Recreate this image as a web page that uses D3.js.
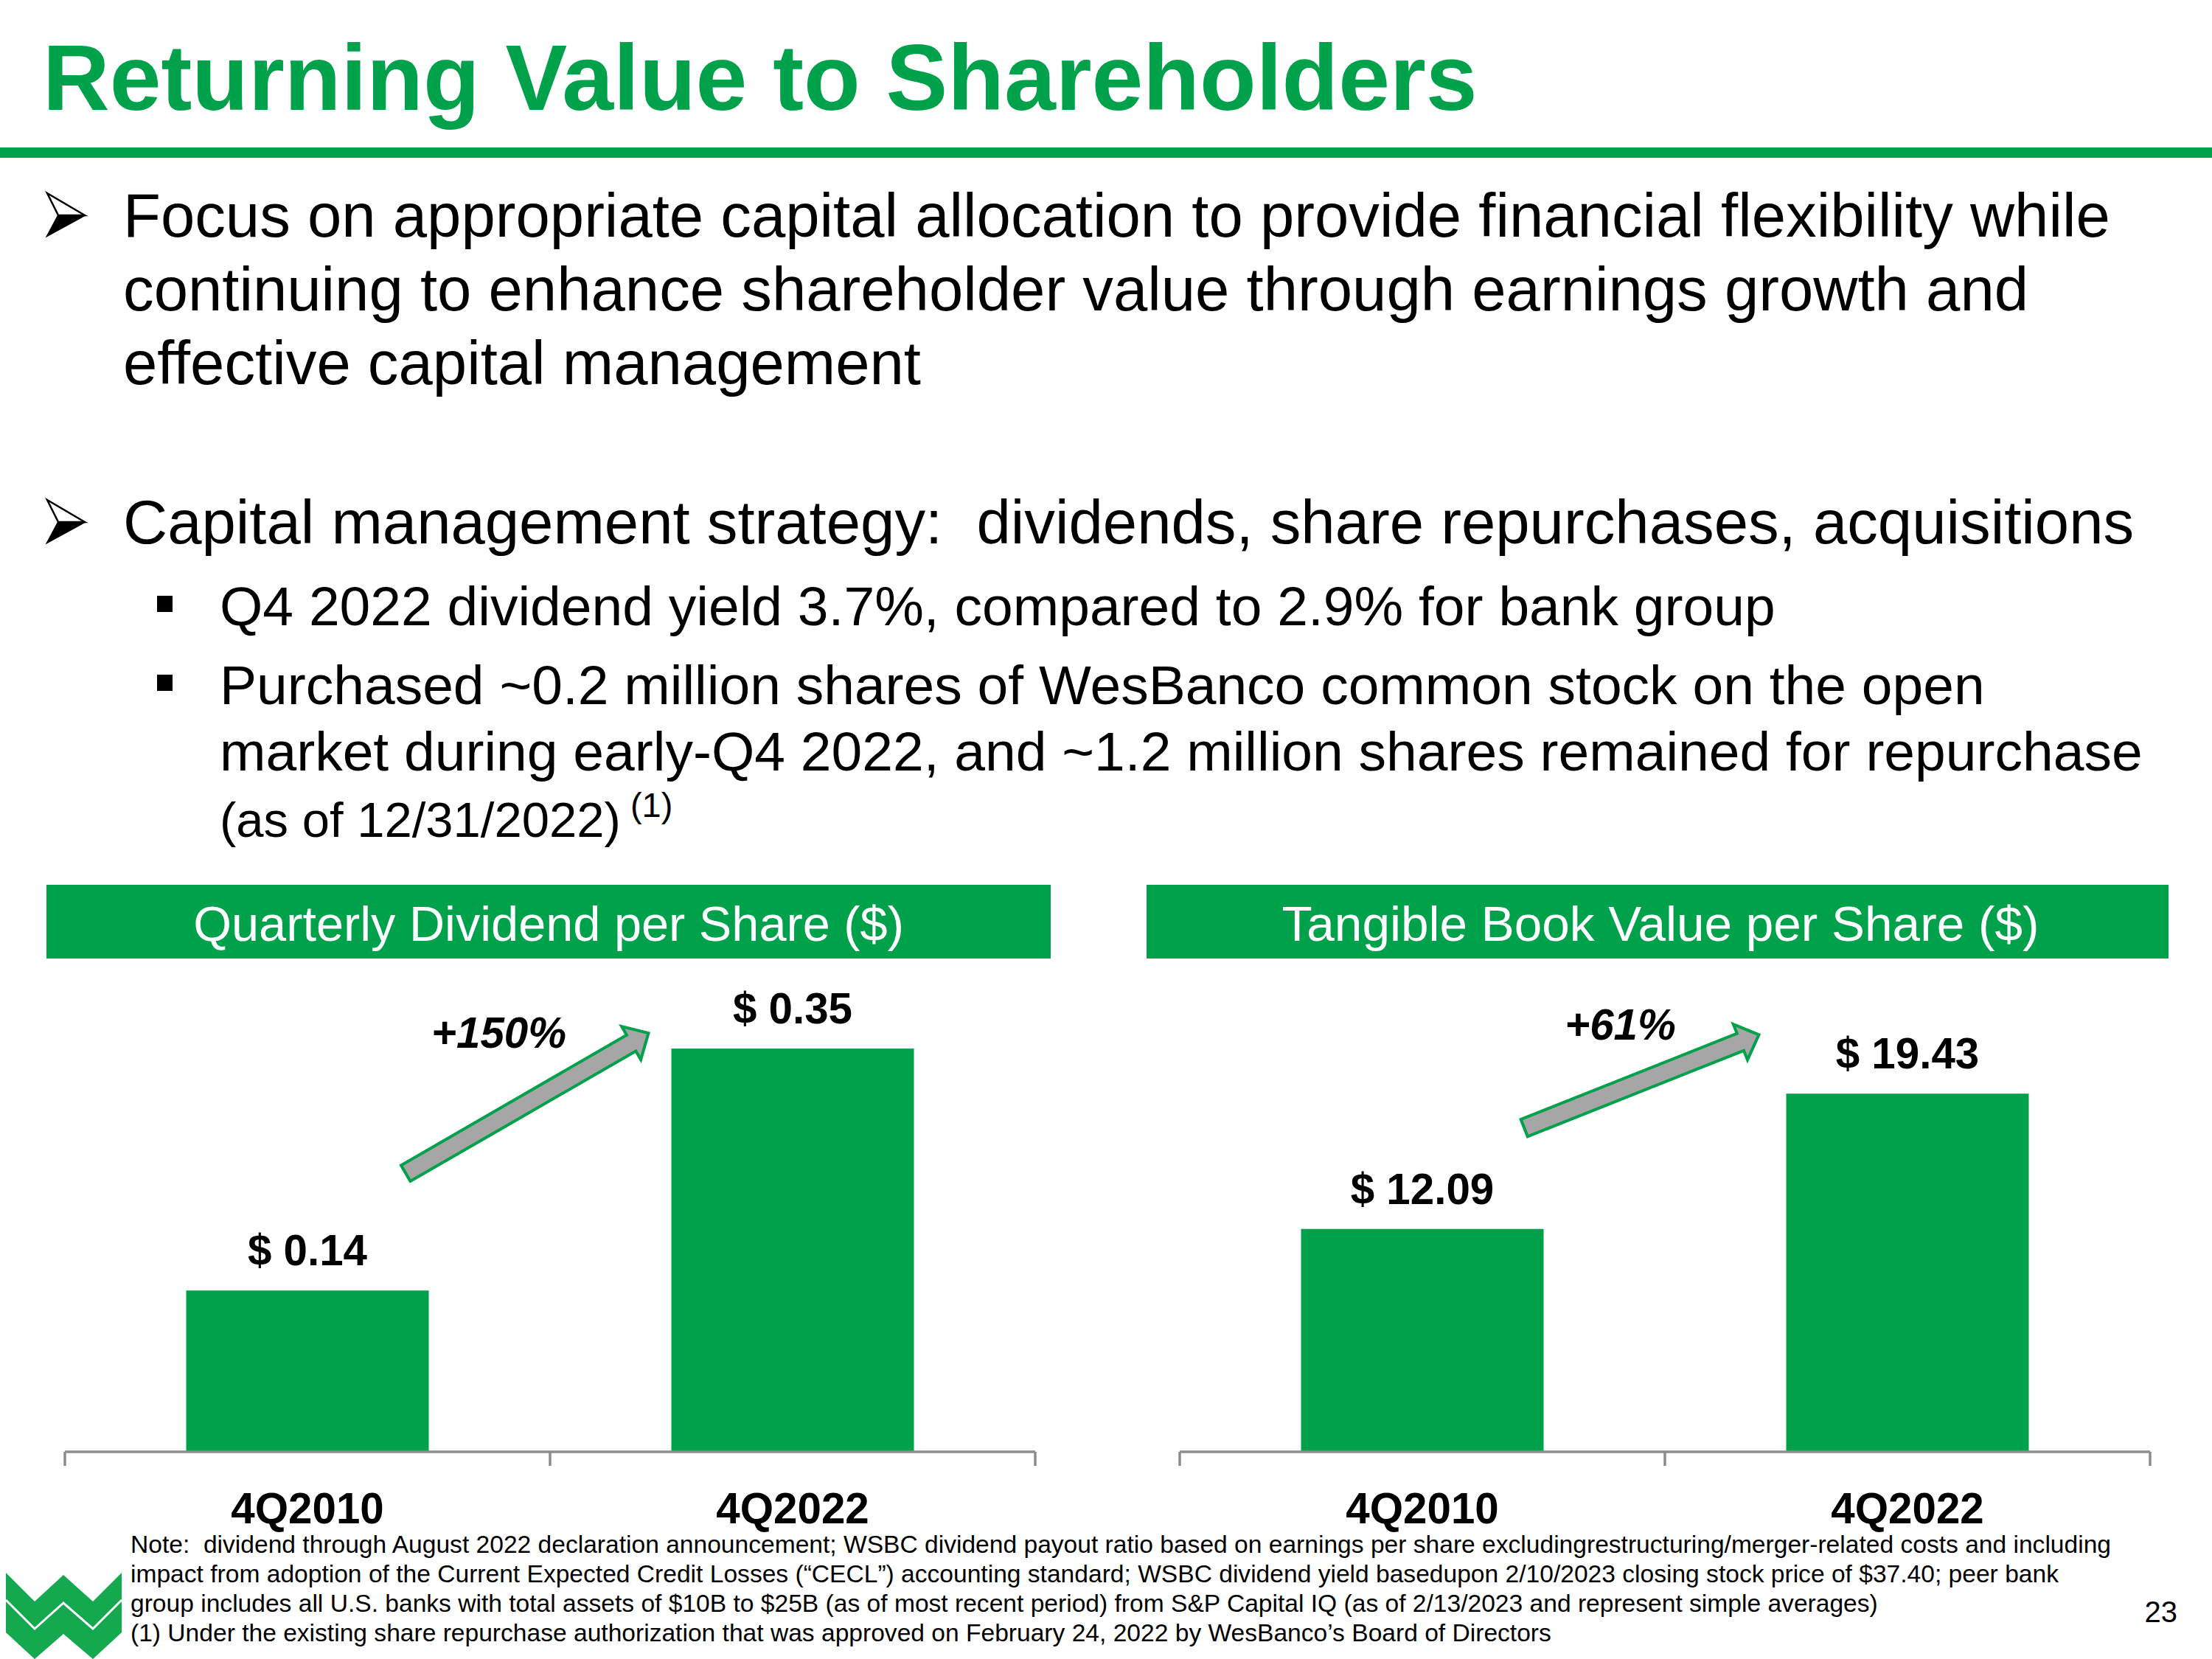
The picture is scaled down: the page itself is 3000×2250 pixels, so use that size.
<!DOCTYPE html>
<html><head><meta charset="utf-8">
<script src="https://cdn.jsdelivr.net/npm/d3@7"></script>
<style>
html,body{margin:0;padding:0;background:#fff;}
svg{display:block;font-family:"Liberation Sans", Arial, Helvetica, sans-serif;}
text{white-space:pre;}
</style></head><body>
<svg id="slide" width="3000" height="2250"></svg>
<script>
// ---------- data ----------
const slideTitle = "Returning Value to Shareholders";
const bullet1Lines = [
  "Focus on appropriate capital allocation to provide financial flexibility while",
  "continuing to enhance shareholder value through earnings growth and",
  "effective capital management"
];
const bullet2Line = "Capital management strategy:  dividends, share repurchases, acquisitions";
const subBullet1Lines = ["Q4 2022 dividend yield 3.7%, compared to 2.9% for bank group"];
const subBullet2Lines = [
  "Purchased ~0.2 million shares of WesBanco common stock on the open",
  "market during early-Q4 2022, and ~1.2 million shares remained for repurchase"
];
const subBullet2Tail = "(as of 12/31/2022)";
const subBullet2Super = " (1)";
const categories = ["4Q2010", "4Q2022"];
const dividendValues = [0.14, 0.35];
const dividendLabels = ["$ 0.14", "$ 0.35"];
const tbvValues = [12.09, 19.43];
const tbvLabels = ["$ 12.09", "$ 19.43"];
const chartTitles = ["Quarterly Dividend per Share ($)", "Tangible Book Value per Share ($)"];
const growthLabels = ["+150%", "+61%"];
const yMaxima = [0.4, 25];
const footnoteLines = [
  "Note:  dividend through August 2022 declaration announcement; WSBC dividend payout ratio based on earnings per share excludingrestructuring/merger-related costs and including",
  "impact from adoption of the Current Expected Credit Losses (\u201CCECL\u201D) accounting standard; WSBC dividend yield basedupon 2/10/2023 closing stock price of $37.40; peer bank",
  "group includes all U.S. banks with total assets of $10B to $25B (as of most recent period) from S&P Capital IQ (as of 2/13/2023 and represent simple averages)",
  "(1) Under the existing share repurchase authorization that was approved on February 24, 2022 by WesBanco\u2019s Board of Directors"
];
const pageNumber = "23";

// ---------- style ----------
const GREEN = "#00a14b";
const AXIS_GRAY = "#8c8c8c";
const svg = d3.select("#slide");

// Title + rule
svg.append("text").attr("x", 58).attr("y", 149)
  .attr("font-size", 125.5).attr("font-weight", "bold").attr("fill", GREEN).text(slideTitle);
svg.append("rect").attr("x", 0).attr("y", 200).attr("width", 3000).attr("height", 14).attr("fill", GREEN);

// Arrowhead bullet (Wingdings-like)
function arrowBullet(x, yTop) {
  const g = svg.append("g").attr("transform", `translate(${x},${yTop})`);
  g.append("path").attr("d", "M0,0 L51,30 L15,30 Z").attr("fill", "#fff").attr("stroke", "#000").attr("stroke-width", 2.5).attr("stroke-linejoin", "miter");
  g.append("path").attr("d", "M15,30 L51,30 L0,58 Z").attr("fill", "#000").attr("stroke", "#000").attr("stroke-width", 2);
}
function textLines(lines, x, y0, lh, size) {
  const t = svg.append("text").attr("font-size", size).attr("fill", "#000");
  lines.forEach((l, i) => t.append("tspan").attr("x", x).attr("y", y0 + i * lh).text(l));
  return t;
}
arrowBullet(64, 262);
textLines(bullet1Lines, 167, 321, 100, 83.3);
arrowBullet(64, 678);
textLines([bullet2Line], 167, 737, 100, 83.3);

// sub bullets
function squareBullet(y) {
  svg.append("rect").attr("x", 213).attr("y", y).attr("width", 21).attr("height", 22).attr("fill", "#000");
}
squareBullet(808);
textLines(subBullet1Lines, 298, 848, 90, 75);
squareBullet(915);
textLines(subBullet2Lines, 298, 955, 90, 75);
const tail = svg.append("text").attr("x", 298).attr("y", 1135).attr("font-size", 67).attr("fill", "#000");
tail.append("tspan").text(subBullet2Tail);
tail.append("tspan").attr("font-size", 47).attr("dy", -27).text(subBullet2Super);

// ---------- charts ----------
const baseY = 1969, topY = 1344;
const charts = [
  { title: chartTitles[0], values: dividendValues, labels: dividendLabels, growth: growthLabels[0], yMax: yMaxima[0],
    header: [63, 1425], axis: [88, 1404],
    arrow: { tailFrac: 0.905, tailDy: -159, tipDx: -31, tipDy: -21 }, growthOff: [-203, 20] },
  { title: chartTitles[1], values: tbvValues, labels: tbvLabels, growth: growthLabels[1], yMax: yMaxima[1],
    header: [1555, 2941], axis: [1600, 2916],
    arrow: { tailFrac: 0.92, tailDy: -137, tipDx: -37, tipDy: -80 }, growthOff: [-188, 7] }
];

function blockArrow(x0, y0, x1, y1, sw, hw, hl) {
  const dx = x1 - x0, dy = y1 - y0, L = Math.hypot(dx, dy);
  const ux = dx / L, uy = dy / L, nx = -uy, ny = ux;
  const bx = x1 - ux * hl, by = y1 - uy * hl;
  const p = [
    [x0 + nx * sw, y0 + ny * sw], [bx + nx * sw, by + ny * sw], [bx + nx * hw, by + ny * hw],
    [x1, y1], [bx - nx * hw, by - ny * hw], [bx - nx * sw, by - ny * sw], [x0 - nx * sw, y0 - ny * sw]
  ];
  return "M" + p.map(q => q.map(v => v.toFixed(1)).join(",")).join("L") + "Z";
}

charts.forEach((c, ci) => {
  const g = svg.append("g");
  // header band
  g.append("rect").attr("x", c.header[0]).attr("y", 1200).attr("width", c.header[1] - c.header[0]).attr("height", 100).attr("fill", GREEN);
  g.append("text").attr("x", (c.header[0] + c.header[1]) / 2 + (ci ? 4 : 0)).attr("y", 1276).attr("text-anchor", "middle")
    .attr("font-size", ci ? 67.5 : 66.7).attr("fill", "#fff").text(c.title);

  const x = d3.scaleBand().domain(categories).range(c.axis).paddingInner(0.5).paddingOuter(0.25);
  const y = d3.scaleLinear().domain([0, c.yMax]).range([baseY, topY]);

  g.selectAll("rect.bar").data(c.values).join("rect").attr("class", "bar")
    .attr("x", (d, i) => x(categories[i])).attr("width", x.bandwidth())
    .attr("y", d => y(d)).attr("height", d => y(0) - y(d)).attr("fill", GREEN);

  g.selectAll("text.val").data(c.values).join("text").attr("class", "val")
    .attr("x", (d, i) => x(categories[i]) + x.bandwidth() / 2).attr("y", d => y(d) - 34)
    .attr("text-anchor", "middle").attr("font-size", 58.3).attr("font-weight", "bold").attr("fill", "#000")
    .text((d, i) => c.labels[i]);

  // axis
  const ax = g.append("g").attr("transform", `translate(0,${baseY})`)
    .call(d3.axisBottom(x).tickSize(0).tickPadding(0));
  ax.select(".domain").remove();
  ax.selectAll("text").attr("y", 97).attr("dy", 0).attr("font-size", 58.3).attr("font-weight", "bold")
    .attr("fill", "#000").attr("font-family", null);
  ax.append("line").attr("x1", c.axis[0]).attr("x2", c.axis[1]).attr("y1", 0).attr("y2", 0)
    .attr("stroke", AXIS_GRAY).attr("stroke-width", 3.5);
  const bounds = categories.map(k => x(k) - x.step() * x.paddingInner() / 2).concat([c.axis[1]]);
  ax.selectAll("line.tk").data(bounds).join("line").attr("class", "tk")
    .attr("x1", d => d).attr("x2", d => d).attr("y1", 0).attr("y2", 19)
    .attr("stroke", AXIS_GRAY).attr("stroke-width", 3.5);

  // growth arrow
  const tx = x(categories[0]) + x.bandwidth() * c.arrow.tailFrac, ty = y(c.values[0]) + c.arrow.tailDy;
  const hx = x(categories[1]) + c.arrow.tipDx, hy = y(c.values[1]) + c.arrow.tipDy;
  g.append("path").attr("d", blockArrow(tx, ty, hx, hy, 12.5, 26, 27))
    .attr("fill", "#a6a6a6").attr("stroke", GREEN).attr("stroke-width", 4).attr("stroke-linejoin", "miter");
  g.append("text").attr("x", hx + c.growthOff[0]).attr("y", hy + c.growthOff[1]).attr("text-anchor", "middle")
    .attr("font-size", 58.3).attr("font-weight", "bold").attr("font-style", "italic").attr("fill", "#000")
    .text(c.growth);
});

// ---------- footnotes ----------
textLines(footnoteLines, 177, 2106, 40, 33.6);
svg.append("text").attr("x", 2953).attr("y", 2200).attr("text-anchor", "end").attr("font-size", 40).attr("fill", "#000").text(pageNumber);

// ---------- logo ----------
const logo = svg.append("g");
logo.append("path")
  .attr("d", "M8,2133 L47,2172 L86,2136 L126,2172 L165,2133 L165,2214 L126,2250 L86,2216 L47,2250 L8,2214 Z")
  .attr("fill", "#14a84f");
logo.append("path")
  .attr("d", "M8,2170 L47,2209 L86,2174 L126,2209 L165,2170")
  .attr("fill", "none").attr("stroke", "#fff").attr("stroke-width", 3);
</script>
</body></html>
